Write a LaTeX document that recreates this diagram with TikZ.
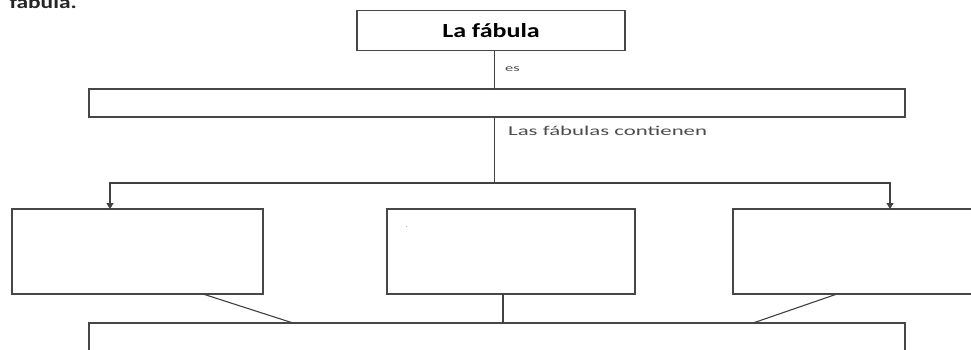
\documentclass[tikz,border=0pt]{standalone}
\usepackage{fontspec}
\setmainfont{Carlito}
\usetikzlibrary{arrows.meta}
\tikzset{
  box/.style={draw=black!72, line width=1.5pt, fill=none, inner sep=0pt, outer sep=0pt},
  openbox/.style={draw=black!72, line width=1.5pt},
  conn/.style={draw=black!75, line width=1.1pt},
  arr/.style={conn, -{Triangle[length=6pt,width=7pt]}},
  lbl/.style={inner sep=0pt, text=black!70},
}
\begin{document}
\begin{tikzpicture}[x=1pt,y=-1pt]
\useasboundingbox (0,0) rectangle (971,349);
\fill[white] (0,0) rectangle (971,349);
\begin{scope}
\clip (0,0) rectangle (971,349);
% cut-off heading
\node[inner sep=0pt, anchor=base east, text=black!85] (head) at (77,8) {\fontsize{18}{20}\selectfont\bfseries\scalebox{1.3}[1]{fábula.}};
% boxes
\node[box, minimum width=268pt, minimum height=40pt] (top) at (491,30.5) {\fontsize{20}{24}\selectfont\bfseries\scalebox{1.3}[1]{La fábula}};
\node[box, minimum width=816pt, minimum height=28pt] (wide) at (497,103) {};
\node[box, minimum width=251pt, minimum height=85pt] (left) at (137.5,251.5) {};
\node[box, minimum width=248pt, minimum height=85pt] (mid) at (511,251.5) {};
\node[inner sep=0pt, outer sep=0pt, minimum width=300pt, minimum height=85pt] (right) at (883,251.5) {};
\draw[openbox] (right.north east) -- (right.north west) -- (right.south west) -- (right.south east);
\node[inner sep=0pt, outer sep=0pt, minimum width=816pt, minimum height=60pt] (bottom) at (497,353) {};
\draw[openbox] (bottom.south west) -- (bottom.north west) -- (bottom.north east) -- (bottom.south east);
% spine
\coordinate (spine) at (494.5,0);
\coordinate (j) at (494.5,183);
\draw[conn] (top.south -| spine) -- (wide.north -| spine);
\draw[conn] (wide.south -| spine) -- (j);
\draw[arr] (j) -| ([xshift=-27.5pt]left.north);
\draw[arr] (j) -| ([xshift=7pt]right.north);
% lower connectors
\draw[conn] ([xshift=65.5pt]left.south) -- ([xshift=-204pt]bottom.north);
\draw[conn, line width=1.5pt] ([xshift=-8pt]mid.south) -- ([xshift=6pt]bottom.north);
\draw[conn] ([xshift=-46pt]right.south) -- ([xshift=256pt]bottom.north);
% labels
\node[lbl, anchor=west] (es) at (505,69) {\fontsize{10}{12}\selectfont\scalebox{1.65}[1]{es}};
\node[lbl, anchor=west] (cont) at (508,131) {\fontsize{13.5}{16}\selectfont\scalebox{1.69}[1]{Las fábulas contienen}};
\node[lbl, text=black!55] (dot) at (407,227) {\fontsize{8}{10}\selectfont .};
\end{scope}
\end{tikzpicture}
\end{document}
